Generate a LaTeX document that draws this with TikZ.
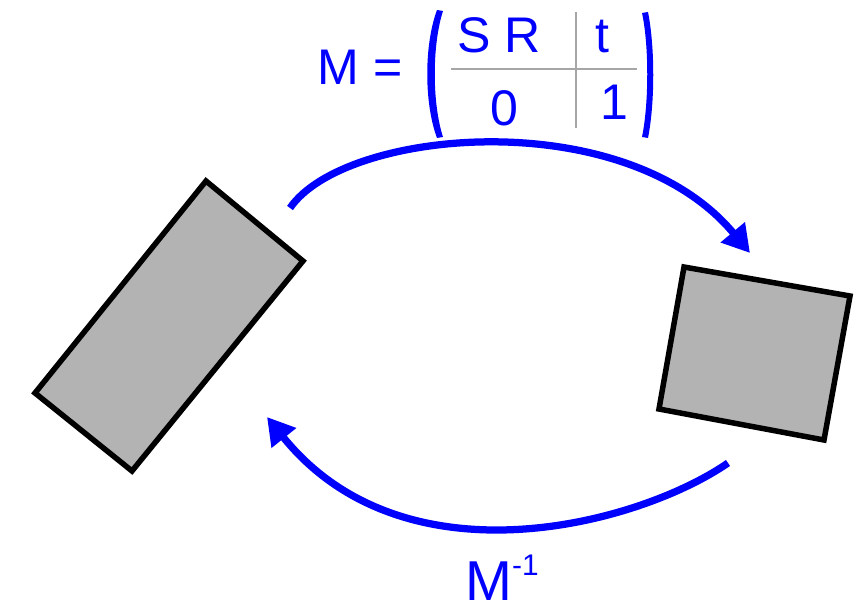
\documentclass[tikz,border=0pt]{standalone}
\usepackage{fontspec}
\setmainfont{Liberation Sans}
\usetikzlibrary{arrows.meta}
\definecolor{boxgray}{HTML}{B3B3B3}
\definecolor{rulegray}{HTML}{A6A6A6}
\begin{document}
\begin{tikzpicture}[x=0.02cm,y=-0.02cm,>={Triangle[length=0.54cm,width=0.6cm]},
  body/.style={draw=black,fill=boxgray,line width=0.11cm,line join=miter},
  map/.style={->,draw=blue,line width=0.145cm},
  lbl/.style={text=blue,inner sep=0pt,anchor=base,font=\fontsize{28.5}{30}\selectfont},
  cell/.style={draw=rulegray,line width=0.03cm}]
  \useasboundingbox (0,0) rectangle (856,608);
  % the two bodies
  \draw[body] (206,181) -- (303,261) -- (132,471) -- (35,393) -- cycle;
  \draw[body] (684,267) -- (850,296) -- (824,440) -- (659,409) -- cycle;
  % matrix label
  \node[lbl] (meq) at (360,85) {M =};
  \fill[blue] (437,10) .. controls (424,45) and (424,103) .. (437,138)
    -- (443,137) .. controls (432,103) and (432,45) .. (443,11) -- cycle;
  \fill[blue] (648,12) .. controls (655,47) and (655,103) .. (648,138)
    -- (642,137) .. controls (649,103) and (649,45) .. (642,13) -- cycle;
  \draw[cell] (451,69) -- (637,69);
  \draw[cell] (576,12) -- (576,128);
  \node[lbl] (sr) at (499,53) {S R};
  \node[lbl] (tr) at (602,53) {t};
  \node[lbl] (zero) at (504,126) {0};
  \node[lbl] (one) at (614,120) {1};
  \node[lbl,font=\fontsize{32}{34}\selectfont] (minv) at (502,600)
    {M\raisebox{0.49cm}{\fontsize{17}{17}\selectfont -1}};
  % the two maps
  \coordinate (fwdA) at (290,208);
  \coordinate (fwdB) at (750,253);
  \coordinate (bwdA) at (728,463);
  \coordinate (bwdB) at (267,417);
  \draw[map] (fwdA) .. controls (345,128) and (625,103) .. (fwdB);
  \draw[map] (bwdA) .. controls (638,525) and (404,587) .. (bwdB);
\end{tikzpicture}
\end{document}
